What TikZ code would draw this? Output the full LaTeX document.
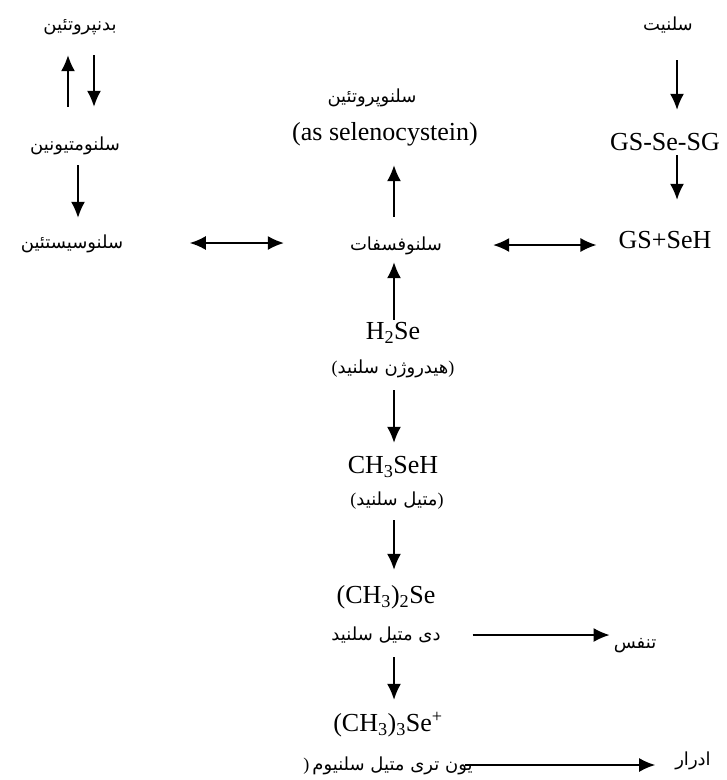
\documentclass[tikz,border=0pt]{standalone}
\usepackage{fontspec}
\setmainfont{Liberation Serif}
\newfontfamily\farsi[Script=Arabic]{DejaVu Sans}
\TeXXeTstate=1
\usetikzlibrary{arrows.meta}
\newcommand{\fa}[1]{{\farsi\beginR #1\endR}}

\begin{document}
\begin{tikzpicture}[x=1pt, y=-1pt, >={Latex[length=16pt,width=14pt]}]
  \tikzstyle{label} = [inner sep=0pt, text height=18pt, text depth=7pt]
  \tikzstyle{chem} = [label, font=\fontsize{26}{30}\selectfont]
  \tikzstyle{fname} = [label, font=\fontsize{18}{22}\selectfont]
  \tikzstyle{flow} = [line width=1.5pt, ->]
  \tikzstyle{both} = [line width=1.5pt, <->]

  \useasboundingbox (0,0) rectangle (727,780);

  % left column
  \node[fname] (bodyprot) at (80,25)  {\fa{بدنپروتئین}};
  \node[fname] (selmet)   at (75,145) {\fa{سلنومتیونین}};
  \node[fname] (selcys)   at (72,243) {\fa{سلنوسیستئین}};

  % centre column
  \node[fname] (selprot)  at (372,97)  {\fa{سلنوپروتئین}};
  \node[chem]  (asselcys) at (385,135) {(as selenocystein)};
  \node[fname] (selphos)  at (396,245) {\fa{سلنوفسفات}};
  \node[chem]  (hse)      at (393,334) {H\textsubscript{2}Se};
  \node[fname] (hsename)  at (393,368) {(\fa{هیدروژن سلنید})};
  \node[chem]  (chse)     at (393,468) {CH\textsubscript{3}SeH};
  \node[fname] (chsename) at (397,500) {(\fa{متیل سلنید})};
  \node[chem]  (dmse)     at (386,598) {(CH\textsubscript{3})\textsubscript{2}Se};
  \node[fname] (dmsename) at (386,635) {\fa{دی متیل سلنید}};
  \node[chem]  (tmse)     at (388,726) {(CH\textsubscript{3})\textsubscript{3}Se\textsuperscript{+}};
  \node[fname] (tmsename) at (388,765) {)\,\fa{یون تری متیل سلنیوم}};

  % right column
  \node[fname] (selenite) at (668,25)  {\fa{سلنیت}};
  \node[chem]  (gsseg)    at (665,145) {GS-Se-SG};
  \node[chem]  (gsseh)    at (665,243) {GS+SeH};
  \node[fname] (breath)   at (635,643) {\fa{تنفس}};
  \node[fname] (urine)    at (693,760) {\fa{ادرار}};

  % arrows
  \draw[flow, shorten <=25.5pt, shorten >=17.5pt] ([xshift=-12pt]bodyprot.south |- selmet.north) -- ([xshift=-12pt]bodyprot.south);
  \draw[flow, shorten <=17.5pt, shorten >=25.5pt] ([xshift=14pt]bodyprot.south) -- ([xshift=14pt]bodyprot.south |- selmet.north);
  \draw[flow, shorten <=7.5pt, shorten >=12.5pt] ([xshift=3pt]selmet.south) -- ([xshift=3pt]selmet.south |- selcys.north);
  \draw[both, shorten <=66.5pt, shorten >=66pt] (selcys.east) -- (selcys.east -| selphos.west);
  \draw[both, shorten <=51pt, shorten >=22pt] (selphos.east) -- (selphos.east -| gsseh.west);

  \draw[flow, shorten <=15.5pt, shorten >=17.5pt] ([xshift=-2pt]selphos.north) -- ([xshift=-2pt]selphos.north |- asselcys.south);
  \draw[flow, shorten <=1.5pt, shorten >=4.5pt] ([xshift=1pt]hse.north) -- ([xshift=1pt]hse.north |- selphos.south);
  \draw[flow, shorten <=9.5pt, shorten >=12.5pt] ([xshift=1pt]hsename.south) -- ([xshift=1pt]hsename.south |- chse.north);
  \draw[flow, shorten <=7.5pt, shorten >=15.5pt] ([xshift=-3pt]chsename.south) -- ([xshift=-3pt]chsename.south |- dmse.north);
  \draw[flow, shorten <=9.5pt, shorten >=13.5pt] ([xshift=8pt]dmsename.south) -- ([xshift=8pt]dmsename.south |- tmse.north);
  \draw[flow, shorten <=32pt, shorten >=4pt] (dmsename.east) -- (dmsename.east -| breath.west);
  \draw[flow, shorten <=-8pt, shorten >=20pt] (tmsename.east) -- (tmsename.east -| urine.west);

  \draw[flow, shorten <=22.5pt, shorten >=22.5pt] ([xshift=9pt]selenite.south) -- ([xshift=9pt]selenite.south |- gsseg.north);
  \draw[flow, shorten <=-2.5pt, shorten >=30.5pt] ([xshift=12pt]gsseg.south) -- ([xshift=12pt]gsseg.south |- gsseh.north);
\end{tikzpicture}
\end{document}
